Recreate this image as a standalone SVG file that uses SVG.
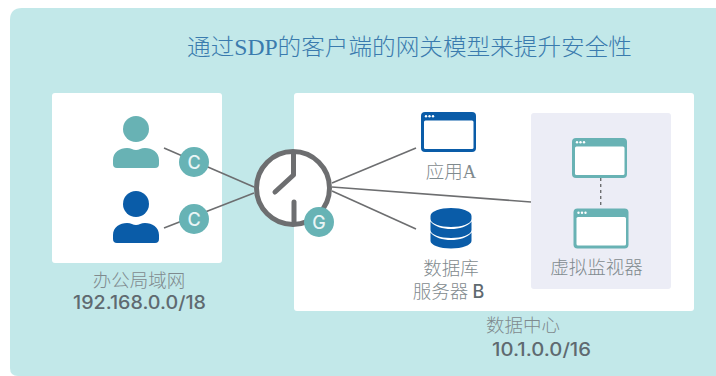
<svg xmlns="http://www.w3.org/2000/svg" width="716" height="376" viewBox="0 0 716 376">
<style>
.cjk{font-family:"Noto Sans CJK SC","Liberation Sans",sans-serif;font-weight:300;font-size:18.500px;fill:#7f8a8e;text-anchor:middle}
.num{font-family:"Inter","Liberation Sans",sans-serif;font-weight:500;font-size:18px;fill:#5f6a70}
.badge{fill:#67b3b5}
.badgeText{font-family:"Inter","Liberation Sans",sans-serif;font-weight:500;font-size:18px;fill:#e9f5f5;text-anchor:middle}
.link{stroke:#6d6e70;stroke-width:1.6;fill:none}
.hand{stroke:#6d6e70;stroke-width:5;stroke-linecap:round;stroke-linejoin:round;fill:none}
.card{fill:#fff}
.blue{fill:#0a5ca8}
.teal{fill:#68b2b4}
</style>
<defs>
<g id="person"><circle cx="136" cy="129" r="13"/><path d="M113 160C113 152 120 148 127 148C131 148 133 150 136 150C139 150 141 148 145 148C152 148 159 152 159 160V164Q159 168 155 168H117Q113 168 113 164Z"/></g>
<g id="win"><rect x="0" y="0" width="55" height="40" rx="4"/><rect x="3" y="8.500" width="49.500" height="28.500" rx="1.500" fill="#fff"/><circle cx="5" cy="4.300" r="1.200" fill="#fff"/><circle cx="8.500" cy="4.300" r="1.200" fill="#fff"/><circle cx="12" cy="4.300" r="1.200" fill="#fff"/></g>
</defs>
<path d="M10 368V20Q10 8 22 8H716V376H18Q10 376 10 368Z" fill="#c2e8e9"/>
<text x="187" y="55" style="font-family:'Liberation Serif','Noto Sans CJK SC',serif;font-weight:300;font-size:23px;fill:#3a7bae" textLength="445" lengthAdjust="spacingAndGlyphs">通过SDP的客户端的网关模型来提升安全性</text>
<rect id="lan-card" class="card" x="52" y="93" width="170" height="170" rx="3"/>
<rect id="dc-card" class="card" x="294" y="93" width="400" height="218" rx="3"/>
<g id="connectors">
<path class="link" d="M164 148L254 187"/>
<path class="link" d="M164 228L254 193"/>
<path class="link" d="M332 183L416 148"/>
<path class="link" d="M332 187L531 202"/>
<path class="link" d="M332 191L416 229"/>
</g>
<g id="hypervisor"><rect x="531" y="113" width="140" height="176" rx="3" fill="#ecedf6"/>
<path d="M600.700 178V208" stroke="#6d6e70" stroke-width="1.400" stroke-dasharray="3 3"/>
<use href="#win" x="572" y="138" class="teal"/>
<use href="#win" x="573.500" y="208.500" class="teal"/>
<text class="cjk" x="596.500" y="274">虚拟监视器</text></g>
<g id="user-a" class="teal"><use href="#person"/></g>
<g id="user-b" class="blue"><use href="#person" y="75"/></g>
<g id="client-a"><circle class="badge" cx="194" cy="162" r="15"/><text class="badgeText" x="194" y="168.500">C</text></g>
<g id="client-b"><circle class="badge" cx="194" cy="219" r="15"/><text class="badgeText" x="194" y="225.500">C</text></g>
<g id="gateway"><circle cx="293" cy="188" r="36.500" fill="#fff" stroke="#6d6e70" stroke-width="5"/>
<path class="hand" d="M293.500 154V175L275 192"/><path class="hand" d="M294 202V223" stroke-linecap="butt"/></g>
<g id="gateway-badge"><circle class="badge" cx="319" cy="222" r="15"/><text class="badgeText" x="319" y="228.500">G</text></g>
<g id="lan-label"><text class="cjk" x="139" y="287">办公局域网</text><text class="num" x="73" y="309" textLength="133" lengthAdjust="spacingAndGlyphs">192.168.0.0/18</text></g>
<g id="app-a"><use href="#win" x="421" y="112" class="blue"/><text class="cjk" x="451" y="178"><tspan>应用</tspan><tspan style="font-family:'Liberation Serif',serif">A</tspan></text></g>
<g id="db-b"><g class="blue"><path d="M430.500 216C430.500 211.500 440 208 451 208C462 208 471.500 211.500 471.500 216V219C471.500 223.500 462 227 451 227C440 227 430.500 223.500 430.500 219Z"/><path d="M430.500 221.500C434 226.500 443 229 451 229C459 229 468 226.500 471.500 221.500V230C471.500 234.500 462 238 451 238C440 238 430.500 234.500 430.500 230Z"/><path d="M430.500 232.500C434 237.500 443 240 451 240C459 240 468 237.500 471.500 232.500V241C471.500 245 462 248.500 451 248.500C440 248.500 430.500 245 430.500 241Z"/></g>
<text class="cjk" x="451" y="275">数据库</text><text class="cjk" x="448.500" y="297.500">服务器 <tspan style="font-family:'Inter','Liberation Sans',sans-serif;font-weight:500;font-size:18px;fill:#5f6a70">B</tspan></text></g>
<g id="dc-label"><text class="cjk" x="523" y="332">数据中心</text><text class="num" x="492" y="356" textLength="99" lengthAdjust="spacingAndGlyphs">10.1.0.0/16</text></g>
</svg>
